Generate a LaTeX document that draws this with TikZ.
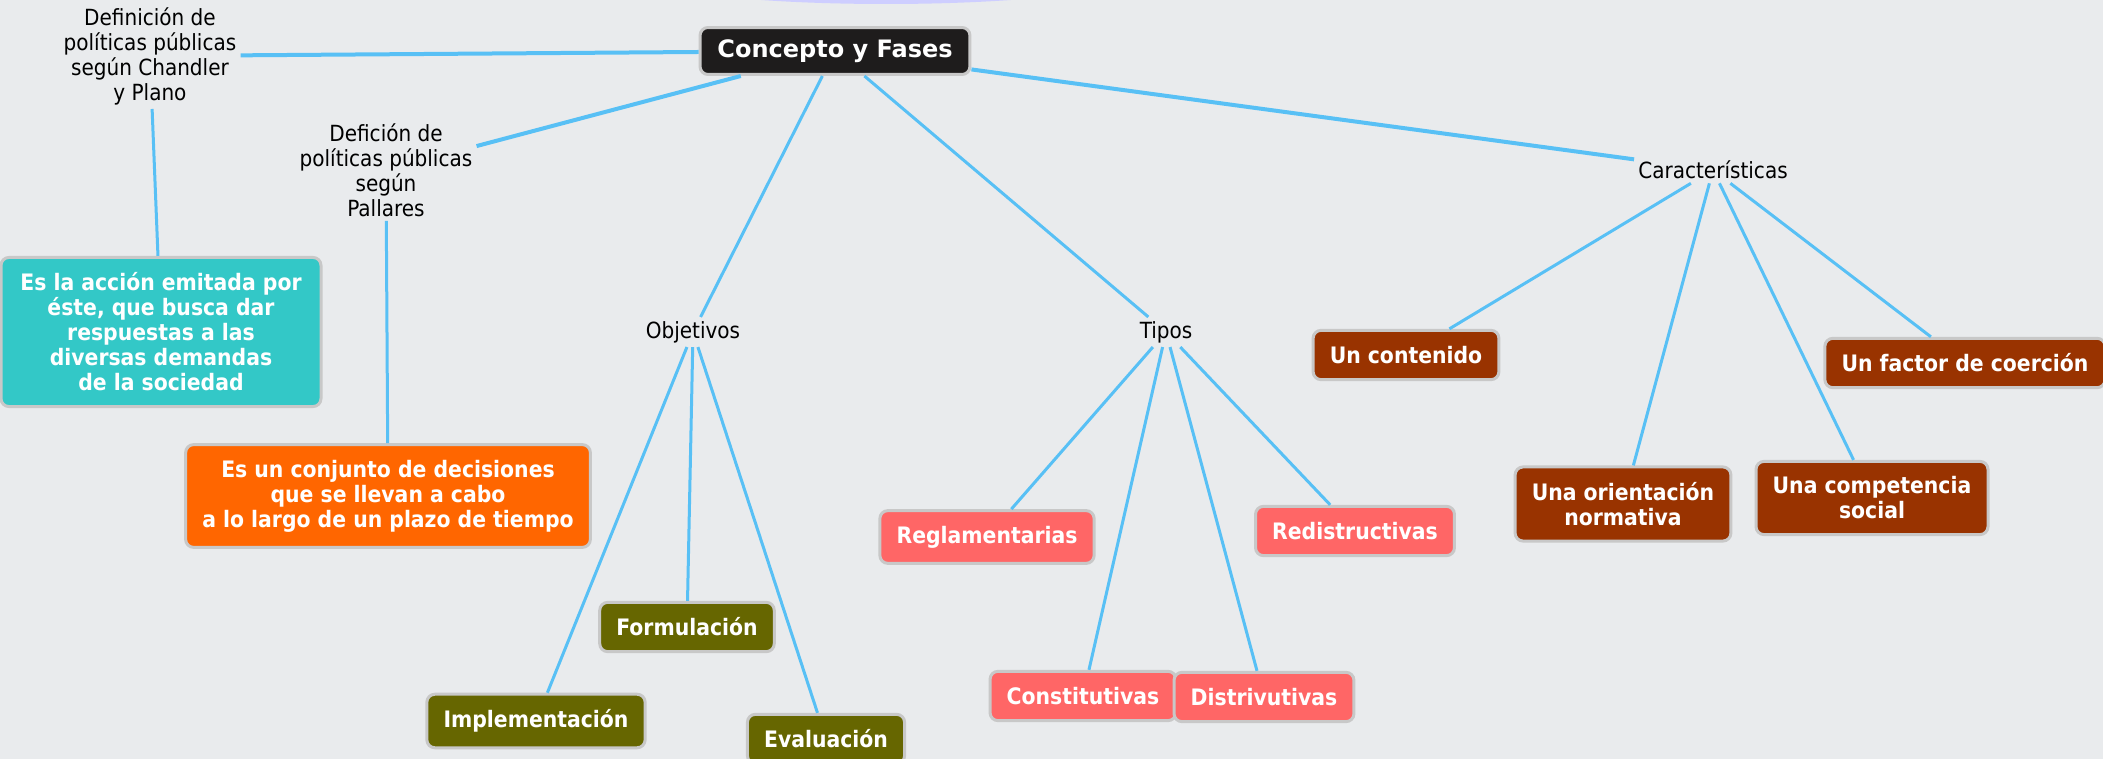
\documentclass[tikz,border=0pt]{standalone}
\usepackage{fontspec}
\setmainfont{DejaVu Sans Condensed}
\newfontfamily\titlefont{DejaVu Sans}
\usepackage{tikz}

\definecolor{fondo}{RGB}{233,235,237}
\definecolor{linea}{RGB}{88,192,245}
\definecolor{negro}{RGB}{30,28,28}
\definecolor{borde}{RGB}{200,200,200}
\definecolor{turquesa}{RGB}{51,200,199}
\definecolor{naranja}{RGB}{255,102,0}
\definecolor{oliva}{RGB}{102,102,0}
\definecolor{salmon}{RGB}{255,102,102}
\definecolor{marron}{RGB}{153,51,0}
\definecolor{lila}{RGB}{206,206,255}

\tikzset{
  etiqueta/.style={font=\fontsize{16.7}{18.75}\selectfont, align=center, inner sep=3pt},
  caja/.style={font=\fontsize{17}{18.75}\selectfont\bfseries, align=center, text=white,
    fill=#1, draw=borde, line width=2.25pt, rounded corners=6pt,
    inner xsep=12.5pt, inner ysep=11.5pt, minimum height=37pt},
  rama/.style={draw=linea, line width=3pt},
  hoja/.style={draw=linea, line width=2.25pt}
}

\begin{document}
\begin{tikzpicture}[x=0.75pt, y=-0.75pt]
      \fill[fondo] (0,0) rectangle (2103,759);
      \useasboundingbox (0,0) rectangle (2103,759);
      \fill[lila] (886,-26) ellipse [x radius=250, y radius=30];

      \node[caja=negro, font=\titlefont\fontsize{18}{21}\selectfont\bfseries, inner xsep=13pt, inner ysep=9pt, minimum height=35pt] (concepto) at (835,51) {Concepto y Fases};

      \node[etiqueta] (chandler) at (150,56) {Definición de\\políticas públicas\\según Chandler\\y Plano};
      \node[etiqueta] (pallares) at (386,170) {Defición de\\políticas públicas\\según\\Pallares};
      \node[etiqueta] (objetivos) at (693,332) {Objetivos};
      \node[etiqueta] (tipos) at (1166,332) {Tipos};
      \node[etiqueta] (caract) at (1713,170) {Características};

      \node[caja=turquesa, minimum width=240pt] (accion) at (161,332) {Es la acción emitada por\\éste, que busca dar\\respuestas a las\\diversas demandas\\de la sociedad};
      \node[caja=naranja] (conjunto) at (388,496) {Es un conjunto de decisiones\\que se llevan a cabo\\a lo largo de un plazo de tiempo};

      \node[caja=oliva] (implem) at (536,721) {Implementación};
      \node[caja=oliva] (formul) at (687,627) {Formulación};
      \node[caja=oliva] (evalua) at (826,739) {Evaluación};

      \node[caja=salmon] (reglam) at (987,537) {Reglamentarias};
      \node[caja=salmon] (constit) at (1083,696) {Constitutivas};
      \node[caja=salmon] (distri) at (1264,697) {Distrivutivas};
      \node[caja=salmon] (redist) at (1355,531) {Redistructivas};

      \node[caja=marron] (contenido) at (1406,355) {Un contenido};
      \node[caja=marron] (orient) at (1623,504) {Una orientación\\normativa};
      \node[caja=marron] (compet) at (1872,498) {Una competencia\\social};
      \node[caja=marron] (coercion) at (1965,363) {Un factor de coerción};

      \draw[rama] (concepto) -- (chandler);
      \draw[rama] (concepto) -- (pallares);
      \draw[hoja] (concepto) -- (objetivos);
      \draw[hoja] (concepto) -- (tipos);
      \draw[rama] (concepto) -- (caract);

      \draw[hoja] (chandler) -- (accion);
      \draw[hoja] (pallares) -- (conjunto);

      \draw[hoja] (objetivos) -- (implem);
      \draw[hoja] (objetivos) -- (formul);
      \draw[hoja] (objetivos) -- (evalua);

      \draw[hoja] (tipos) -- (reglam);
      \draw[hoja] (tipos) -- (constit);
      \draw[hoja] (tipos) -- (distri);
      \draw[hoja] (tipos) -- (redist);

      \draw[hoja] (caract) -- (contenido);
      \draw[hoja] (caract) -- (orient);
      \draw[hoja] (caract) -- (compet);
      \draw[hoja] (caract) -- (coercion);
    \end{tikzpicture}
\end{document}
